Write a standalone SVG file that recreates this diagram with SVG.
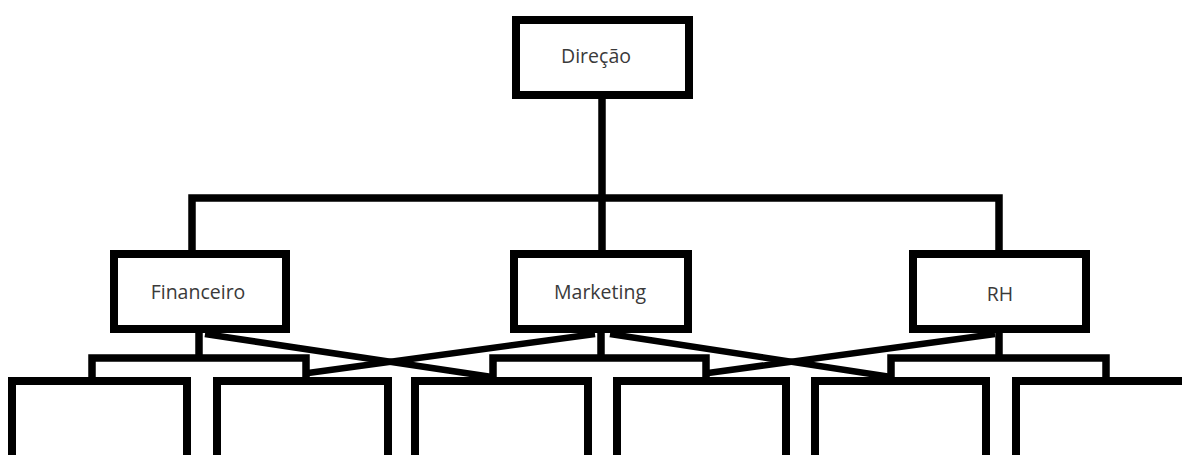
<svg xmlns="http://www.w3.org/2000/svg" width="1182" height="455" viewBox="0 0 1182 455">
  <style>
    .box { fill: #ffffff; stroke: #000000; stroke-width: 8; }
    .wire { fill: none; stroke: #000000; stroke-width: 7.5; stroke-linejoin: miter; stroke-linecap: butt; }
    .cross { fill: none; stroke: #000000; stroke-width: 6.5; stroke-linecap: butt; }
    .label { font-family: "Open Sans", "Noto Sans", "DejaVu Sans", sans-serif; font-size: 19.5px; fill: #3a3a3a; text-anchor: middle; }
  </style>
  <rect x="0" y="0" width="1182" height="455" fill="#ffffff"/>

  <!-- connectors -->
  <g id="connectors">
    <!-- top level: Direção to the three departments -->
    <path class="wire" d="M602 99 V198"/>
    <path class="wire" d="M192 250 V198 H999 V250"/>
    <path class="wire" d="M602 198 V250"/>
    <!-- department sub-buses -->
    <path class="wire" d="M199 333 V358"/>
    <path class="wire" d="M92 377 V358 H306 V377"/>
    <path class="wire" d="M601 333 V358"/>
    <path class="wire" d="M493 377 V358 H706 V377"/>
    <path class="wire" d="M999 333 V358"/>
    <path class="wire" d="M891 377 V358 H1106 V377"/>
    <!-- crossing links -->
    <line class="cross" x1="205" y1="334" x2="492" y2="377"/>
    <line class="cross" x1="595" y1="334" x2="308" y2="373"/>
    <line class="cross" x1="610" y1="334" x2="891" y2="377"/>
    <line class="cross" x1="995" y1="334" x2="708" y2="373"/>
  </g>

  <!-- nodes -->
  <g id="direcao">
    <rect class="box" x="516" y="20" width="173" height="75"/>
    <text class="label" x="596" y="63">Direção</text>
  </g>
  <g id="financeiro">
    <rect class="box" x="114" y="254" width="172" height="75"/>
    <text class="label" x="198" y="299">Financeiro</text>
  </g>
  <g id="marketing">
    <rect class="box" x="514" y="254" width="174" height="75"/>
    <text class="label" x="600" y="299">Marketing</text>
  </g>
  <g id="rh">
    <rect class="box" x="913" y="254" width="173" height="75"/>
    <text class="label" x="1000" y="301">RH</text>
  </g>

  <g id="sub-1"><rect class="box" x="12" y="381" width="175" height="100"/></g>
  <g id="sub-2"><rect class="box" x="217" y="381" width="171" height="100"/></g>
  <g id="sub-3"><rect class="box" x="415" y="381" width="173" height="100"/></g>
  <g id="sub-4"><rect class="box" x="617" y="381" width="169" height="100"/></g>
  <g id="sub-5"><rect class="box" x="815" y="381" width="171" height="100"/></g>
  <g id="sub-6"><rect class="box" x="1016" y="381" width="190" height="100"/></g>
</svg>
